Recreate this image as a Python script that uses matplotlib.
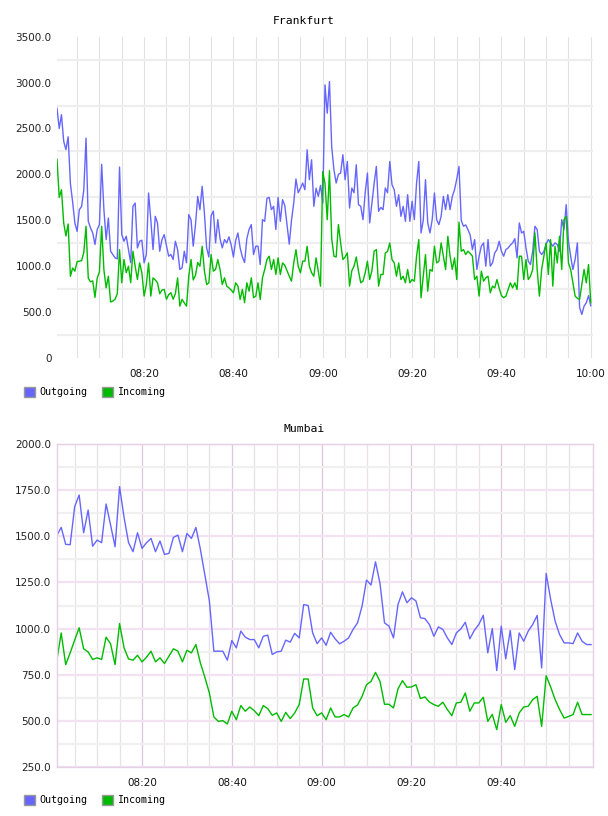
import matplotlib
matplotlib.use("Agg")
import matplotlib.pyplot as plt
import matplotlib.dates as mdates
from matplotlib.patches import Patch
from matplotlib.ticker import FixedLocator, FuncFormatter
import pandas as pd

# Frankfurt: one sample every 30 s starting 08:00:30
fra_start = "2013-05-14 08:00:30"
fra_outgoing = [
    2720, 2500, 2650, 2360, 2270, 2410, 1900, 1700, 1470, 1380,
    1616, 1650, 1830, 2395, 1490, 1417, 1362, 1236, 1400, 1453,
    2110, 1616, 1290, 1525, 1163, 1127, 1091, 1080, 2080, 1344,
    1272, 1326, 1181, 1037, 1652, 1688, 1199, 1272, 1283, 1037,
    1127, 1797, 1507, 1181, 1543, 1471, 1163, 1290, 1344, 1225,
    1109, 1127, 1073, 1272, 1181, 964, 982, 1163, 1037, 1562,
    1507, 1218, 1450, 1760, 1616, 1870, 1580, 1200, 1100, 1550,
    1600, 1254, 1507, 1300, 1200, 1290, 1254, 1320, 1230, 1100,
    1280, 1362, 1200, 1100, 1040, 1300, 1400, 1453, 1127, 1218,
    1218, 1018, 1507, 1489, 1740, 1750, 1616, 1652, 1400, 1750,
    1489, 1725, 1660, 1450, 1240, 1500, 1688, 1950, 1800, 1850,
    1906, 1833, 2268, 1942, 2159, 1652, 1850, 1761, 1880, 1688,
    2975, 2667, 3011, 2300, 2050, 1906, 2000, 2015, 2214, 1942,
    2141, 1634, 1851, 1800, 2105, 1670, 1652, 1507, 1800, 2015,
    1471, 1688, 1900, 2087, 1598, 1640, 1616, 1851, 1800, 2141,
    1888, 1833, 1652, 1779, 1543, 1652, 1489, 1779, 1489, 1707,
    1507, 1906, 2141, 1362, 1500, 1942, 1471, 1362, 1507, 1797,
    1507, 1453, 1543, 1761, 1616, 1779, 1616, 1760, 1833, 1950,
    2087, 1500, 1435, 1450, 1399, 1340, 1181, 1290, 964, 1109,
    1218, 1254, 1000, 1290, 1000, 1036, 1145, 1181, 1272, 1163,
    1109, 1181, 1199, 1230, 1254, 1300, 1091, 1471, 1362, 1380,
    1199, 1055, 1018, 1163, 1435, 1399, 1163, 1127, 1160, 1240,
    1290, 1254, 1218, 1254, 1236, 1163, 1507, 1399, 1670, 1272,
    1109, 964, 1073, 1254, 550, 475, 565, 602, 680, 570,
]
fra_incoming = [
    2167, 1750, 1833, 1470, 1330, 1460, 890, 980, 946, 1050,
    1055, 1060, 1150, 1435, 870, 830, 840, 660, 870, 940,
    1435, 960, 764, 890, 610, 620, 640, 700, 1180, 820,
    1073, 930, 1000, 820, 1163, 1000, 855, 1036, 928, 674,
    800, 1036, 674, 873, 850, 819, 700, 740, 747, 640,
    690, 711, 640, 700, 873, 565, 638, 600, 565, 891,
    1073, 850, 900, 1040, 1000, 1217, 950, 800, 819, 1127,
    946, 964, 1073, 964, 800, 873, 783, 764, 740, 710,
    819, 783, 638, 747, 602, 819, 728, 873, 656, 674,
    819, 638, 873, 964, 1073, 1109, 964, 1073, 910, 1091,
    910, 1036, 1010, 950, 891, 837, 1036, 1180, 1000, 928,
    1055, 1055, 1217, 1000, 928, 891, 1091, 946, 783, 2030,
    1900, 1507, 2040, 1300, 1109, 1100, 1453, 1254, 1073, 1100,
    1145, 783, 950, 1000, 1100, 946, 819, 837, 928, 1055,
    855, 950, 1163, 1181, 783, 910, 910, 1145, 1160, 1254,
    1073, 1036, 891, 1036, 855, 891, 819, 964, 819, 855,
    837, 1109, 1290, 656, 891, 1127, 728, 964, 946, 1217,
    1036, 1055, 1254, 1110, 964, 1326, 1110, 964, 1090, 855,
    1480, 1163, 1181, 1127, 1163, 1140, 1109, 855, 891, 674,
    946, 837, 873, 891, 710, 783, 764, 855, 760, 680,
    656, 674, 747, 819, 764, 819, 747, 1109, 1109, 855,
    1073, 855, 891, 964, 1362, 964, 674, 964, 1109, 1254,
    910, 1290, 783, 1217, 1036, 1326, 964, 1507, 1543, 1036,
    964, 819, 674, 650, 638, 800, 964, 819, 1018, 602,
]

# Mumbai: one sample per minute starting 08:01
mum_start = "2013-05-14 08:01:00"
mum_outgoing = [
    1504, 1549, 1457, 1455, 1661, 1725, 1520, 1643, 1447, 1480,
    1466, 1676, 1562, 1444, 1770, 1603, 1466, 1417, 1520, 1435,
    1466, 1489, 1417, 1475, 1402, 1408, 1495, 1507, 1417, 1516,
    1489, 1549, 1430, 1290, 1150, 877, 877, 877, 828, 935,
    895, 986, 953, 940, 940, 895, 958, 964, 859, 873,
    877, 937, 926, 974, 949, 1130, 1125, 976, 918, 949,
    909, 980, 944, 917, 931, 949, 995, 1031, 1121, 1263,
    1236, 1362, 1245, 1031, 1013, 949, 1130, 1199, 1140, 1167,
    1150, 1058, 1054, 1022, 958, 1009, 995, 949, 913, 976,
    998, 1034, 944, 990, 1022, 1072, 868, 1000, 772, 1013,
    835, 990, 777, 976, 931, 986, 1022, 1071, 786, 1299,
    1158, 1040, 967, 922, 922, 918, 976, 931, 913, 913,
]
mum_incoming = [
    822, 976, 804, 868, 937, 1004, 890, 873, 832, 841,
    832, 953, 917, 804, 1027, 895, 835, 828, 855, 819,
    844, 877, 819, 841, 810, 850, 890, 877, 819, 882,
    868, 913, 813, 735, 650, 520, 496, 500, 482, 551,
    505, 582, 551, 574, 554, 527, 582, 565, 529, 542,
    496, 545, 511, 542, 587, 726, 726, 569, 527, 542,
    505, 569, 520, 520, 533, 520, 569, 585, 632, 695,
    713, 762, 713, 589, 589, 569, 672, 717, 681, 683,
    695, 620, 629, 601, 587, 578, 600, 560, 527, 596,
    600, 650, 551, 596, 596, 627, 496, 534, 451, 587,
    491, 527, 469, 542, 574, 578, 614, 632, 469, 744,
    683, 614, 560, 514, 523, 533, 600, 533, 533, 533,
]

OUT_COLOR = "#6666ff"
IN_COLOR = "#00bb00"
MONO = "DejaVu Sans Mono"


def day(t):
    return mdates.date2num(pd.Timestamp("2013-05-14 " + t))


def minutes(a, b, step):
    rng = pd.date_range("2013-05-14 " + a, "2013-05-14 " + b, freq=step)
    return [mdates.date2num(t) for t in rng]


fra_t = pd.date_range(fra_start, periods=len(fra_outgoing), freq="30s")
mum_t = pd.date_range(mum_start, periods=len(mum_outgoing), freq="1min")

fig = plt.figure(figsize=(6.08, 8.16), dpi=100)

# ---- Frankfurt ----
ax1 = fig.add_axes([57 / 608, 1 - 358 / 816, 536 / 608, 321.3 / 816])
ax1.plot(fra_t, fra_outgoing, color=OUT_COLOR, lw=1.0)
ax1.plot(fra_t, fra_incoming, color=IN_COLOR, lw=1.0)
ax1.set_xlim(day("08:00:30"), day("10:00:30"))
ax1.set_ylim(0, 3500)
ax1.yaxis.set_major_locator(FixedLocator(range(0, 3501, 500)))
ax1.yaxis.set_minor_locator(FixedLocator(range(250, 3500, 500)))
ax1.yaxis.set_major_formatter(
    FuncFormatter(lambda v, p: "0" if v == 0 else "%.1f" % v))
ax1.xaxis.set_major_locator(FixedLocator(minutes("08:20", "10:00", "20min")))
ax1.xaxis.set_minor_locator(FixedLocator(minutes("08:05", "10:00", "5min")))
ax1.xaxis.set_major_formatter(mdates.DateFormatter("%H:%M"))
ax1.grid(True, axis="y", which="minor", color="#eeeeee", lw=1.6)
ax1.grid(True, axis="x", which="both", color="#e2e2e2", lw=0.8)
for s in ax1.spines.values():
    s.set_visible(False)

# ---- Mumbai ----
ax2 = fig.add_axes([56.7 / 608, 1 - 766.7 / 816, 536.6 / 608, 322.4 / 816])
ax2.plot(mum_t, mum_outgoing, color=OUT_COLOR, lw=1.0)
ax2.plot(mum_t, mum_incoming, color=IN_COLOR, lw=1.0)
ax2.set_xlim(day("08:01:00"), day("10:00:30"))
ax2.set_ylim(250, 2000)
ax2.yaxis.set_major_locator(FixedLocator(range(250, 2001, 250)))
ax2.yaxis.set_minor_locator(FixedLocator(range(375, 2000, 250)))
ax2.yaxis.set_major_formatter(FuncFormatter(lambda v, p: "%.1f" % v))
ax2.xaxis.set_major_locator(FixedLocator(minutes("08:20", "09:40", "20min")))
ax2.xaxis.set_minor_locator(FixedLocator(minutes("08:05", "09:55", "5min")))
ax2.xaxis.set_major_formatter(mdates.DateFormatter("%H:%M"))
ax2.grid(True, axis="y", which="major", color="#f2e2f2", lw=1.6)
ax2.grid(True, axis="y", which="minor", color="#f0f0f0", lw=1.6)
ax2.grid(True, axis="x", which="major", color="#dcc6dc", lw=0.9)
ax2.grid(True, axis="x", which="minor", color="#e8e2e8", lw=0.9)
for s in ax2.spines.values():
    s.set_color("#e6d0e6")
    s.set_linewidth(1.0)

for ax in (ax1, ax2):
    ax.set_axisbelow(True)
    ax.tick_params(which="both", length=0)
    ax.tick_params(axis="y", pad=4, labelsize=7.5, labelcolor="#222222")
    ax.tick_params(axis="x", pad=8, labelsize=7.5, labelcolor="#111111")

# titles
fig.text(0.5, 1 - 20.7 / 816, "Frankfurt", ha="center", va="center",
         family=MONO, size=8.2)
fig.text(0.5, 1 - 429 / 816, "Mumbai", ha="center", va="center",
         family=MONO, size=8.2)

# legends under each chart
handles = [Patch(facecolor=OUT_COLOR, edgecolor="#999999", label="Outgoing"),
           Patch(facecolor=IN_COLOR, edgecolor="#999999", label="Incoming")]
for ypix in (392, 800.3):
    fig.legend(handles=handles, loc="center left",
               bbox_to_anchor=(24 / 608, 1 - ypix / 816), ncol=2,
               frameon=False, prop={"family": MONO, "size": 7.2},
               handlelength=1.1, handleheight=1.1, handletextpad=0.4,
               columnspacing=1.5, borderpad=0, borderaxespad=0)

fig.savefig("out.png", dpi=100)
